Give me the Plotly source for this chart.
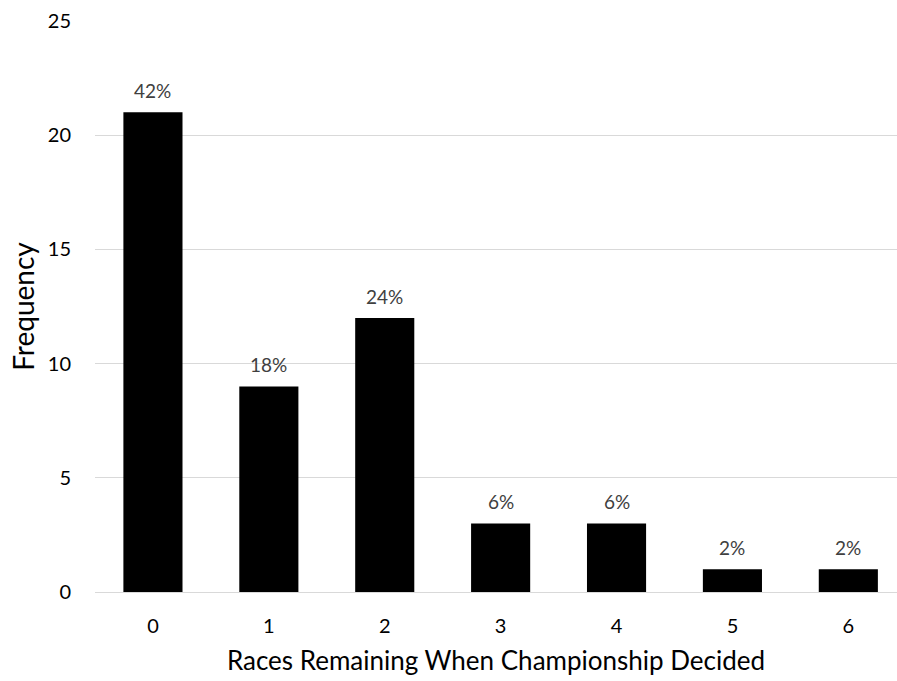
import plotly.graph_objects as go

categories = [0, 1, 2, 3, 4, 5, 6]
frequency = [21, 9, 12, 3, 3, 1, 1]
pct_labels = ["42%", "18%", "24%", "6%", "6%", "2%", "2%"]
y_ticks = [0, 5, 10, 15, 20, 25]

FONT = "Lato, 'Open Sans', sans-serif"

fig = go.Figure()
fig.add_trace(go.Bar(
    x=categories, y=frequency, width=0.51,
    marker=dict(color="black", line=dict(width=0)),
    showlegend=False, hoverinfo="x+y",
))
for c, f, t in zip(categories, frequency, pct_labels):
    fig.add_annotation(x=c, y=f, text=t, showarrow=False, yanchor="bottom",
                       yshift=8, font=dict(family=FONT, size=19, color="#404040"))

fig.update_layout(
    width=897, height=681,
    margin=dict(l=95, r=0, t=21, b=89, pad=0),
    plot_bgcolor="white", paper_bgcolor="white",
    font=dict(family=FONT, color="black"),
    xaxis=dict(
        range=[-0.5, 6.42], tickmode="array", tickvals=categories,
        ticktext=[str(c) for c in categories],
        showgrid=False, zeroline=False, showline=False, ticks="",
        tickfont=dict(size=20, color="black"), ticklabelstandoff=20,
        title=dict(text="Races Remaining When Championship Decided",
                   font=dict(size=26, color="black"), standoff=15),
    ),
    yaxis=dict(
        range=[0, 25], tickmode="array", tickvals=y_ticks,
        showgrid=True, gridcolor="#d9d9d9", gridwidth=1.3,
        zeroline=True, zerolinecolor="#d9d9d9", zerolinewidth=1.3,
        showline=False, ticks="",
        tickfont=dict(size=20, color="black"), ticklabelstandoff=23,
        title=dict(text="Frequency", font=dict(size=28, color="black"), standoff=4),
    ),
)

fig.write_html("out.html")
